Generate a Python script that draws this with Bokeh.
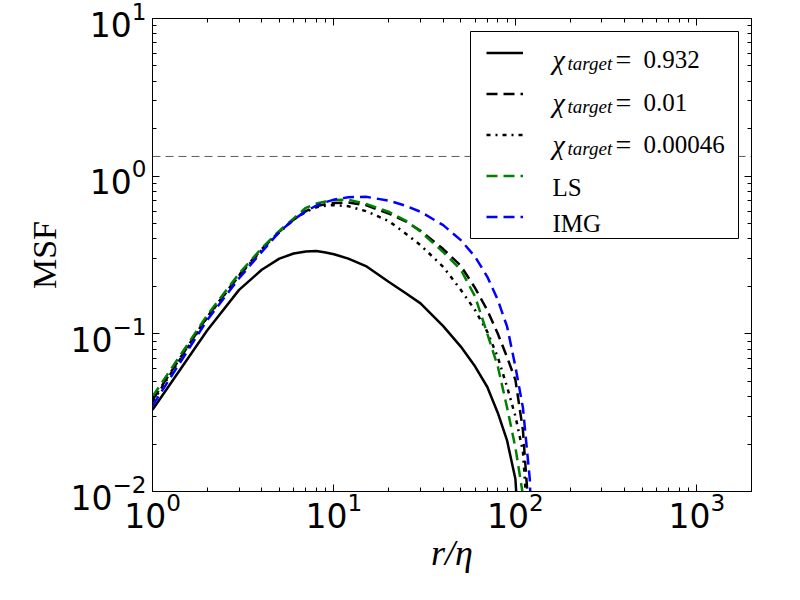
from bokeh.plotting import figure
from bokeh.models import (Range1d, LogAxis, LogTicker, Span, Legend, LegendItem,
                          Label, BoxAnnotation, CustomJSTickFormatter)
from bokeh.embed import file_html
from bokeh.resources import INLINE

# ---------------- data ----------------
r_eta = [1, 2, 3, 4, 5, 6, 7, 8, 9, 10, 12, 15, 20, 25, 30, 40, 50, 60, 70, 80,
         90, 100, 110, 120, 130]

msf_chi_0932 = [0.033, 0.105, 0.19, 0.255, 0.30, 0.323, 0.333, 0.335, 0.328, 0.32,
                0.30, 0.269, 0.214, 0.18, 0.156, 0.112, 0.083, 0.062, 0.046, 0.0315,
                0.021, 0.012, 0.002]
msf_chi_001 = [0.038, 0.128, 0.236, 0.345, 0.445, 0.53, 0.60, 0.645, 0.665, 0.675,
               0.68, 0.655, 0.58, 0.515, 0.45, 0.345, 0.27, 0.195, 0.141, 0.10,
               0.071, 0.051, 0.0245, 0.006]
msf_chi_000046 = [0.037, 0.127, 0.234, 0.34, 0.44, 0.53, 0.595, 0.635, 0.65, 0.655,
                  0.645, 0.60, 0.52, 0.43, 0.365, 0.266, 0.19, 0.141, 0.103, 0.071,
                  0.046, 0.030, 0.018, 0.004]
msf_ls = [0.040, 0.131, 0.241, 0.35, 0.45, 0.54, 0.63, 0.67, 0.69, 0.705,
          0.71, 0.667, 0.595, 0.52, 0.445, 0.33, 0.255, 0.172, 0.10, 0.062,
          0.034, 0.019, 0.0095, 0.001]
msf_img = [0.035, 0.122, 0.225, 0.331, 0.443, 0.53, 0.60, 0.65, 0.685, 0.71,
           0.735, 0.74, 0.70, 0.648, 0.594, 0.489, 0.393, 0.308, 0.23, 0.164,
           0.111, 0.062, 0.034, 0.012, 0.001]

chi_labels = ["0.932", "0.01", "0.00046"]
other_labels = ["LS", "IMG"]
ref_level = 4.0 / 3.0

x_limits = (1, 2000)
y_limits = (0.01, 10)

# ---------------- figure ----------------
p = figure(x_axis_type="log", y_axis_type="log",
           x_range=Range1d(*x_limits), y_range=Range1d(*y_limits),
           width=784, height=584,
           min_border_left=152, min_border_right=33, min_border_top=18, min_border_bottom=93,
           output_backend="svg", toolbar_location=None)
p.background_fill_color = "white"
p.border_fill_color = "white"
p.outline_line_color = "black"
p.outline_line_width = 1
p.xgrid.visible = False
p.ygrid.visible = False

for ax in (p.xaxis[0], p.yaxis[0]):
    ax.ticker.num_minor_ticks = 10
    ax.major_tick_in = 7
    ax.major_tick_out = 0
    ax.minor_tick_in = 4
    ax.minor_tick_out = 0
    ax.axis_line_color = "black"
    ax.major_tick_line_color = "black"
    ax.minor_tick_line_color = "black"
    ax.major_label_text_font = "DejaVu Sans"
    ax.major_label_text_font_size = "33px"
    ax.major_label_text_color = "black"
    ax.axis_label_text_font = "Liberation Serif"
    ax.axis_label_text_color = "black"

p.xaxis.major_label_standoff = 0
p.yaxis.major_label_standoff = 6
p.xaxis.axis_label = "r/η"
p.xaxis.axis_label_text_font_style = "italic"
p.xaxis.axis_label_text_font_size = "36px"
p.xaxis.axis_label_standoff = 2
p.yaxis.axis_label = "MSF"
p.yaxis.axis_label_text_font_style = "normal"
p.yaxis.axis_label_text_font_size = "34px"
p.yaxis.axis_label_standoff = 4

for side in ("above", "right"):
    ax = LogAxis(ticker=LogTicker(num_minor_ticks=10),
                 formatter=CustomJSTickFormatter(code="return ''"),
                 major_label_text_font_size="1px", major_label_standoff=0,
                 major_tick_in=7, major_tick_out=0, minor_tick_in=4, minor_tick_out=0,
                 axis_line_color="black", major_tick_line_color="black",
                 minor_tick_line_color="black")
    p.add_layout(ax, side)

p.add_layout(Span(location=ref_level, dimension="width", line_color="#333333",
                  line_dash="8 5", line_width=0.8, level="underlay"))

# ---------------- curves ----------------
series = [
    (msf_chi_0932, "black", "solid"),
    (msf_chi_001, "black", "11 6"),
    (msf_chi_000046, "black", "4 5 2 5"),
    (msf_ls, "#008000", "11 6"),
    (msf_img, "#0000ff", "11 6"),
]
renderers = []
for ys, col, dash in series:
    r = p.line(r_eta[:len(ys)], ys, line_color=col, line_width=2.5, line_dash=dash)
    renderers.append(r)

# legend frame (white box with black border), in frame pixels (y upward)
p.add_layout(BoxAnnotation(left=318, right=586, bottom=253, top=460,
                           left_units="screen", right_units="screen",
                           bottom_units="screen", top_units="screen",
                           fill_color="white", fill_alpha=1.0,
                           line_color="black", line_width=1, line_alpha=1.0))

# legend texts (positions relative to the frame, y upward)
text_x = 400
baselines = [432, 389, 347, 304, 268]
font = "Liberation Serif"


def add_text(x, y, txt, size, style="normal"):
    p.add_layout(Label(x=x, y=y, x_units="screen", y_units="screen", text=txt,
                       text_font=font, text_font_size=size, text_font_style=style,
                       text_color="black",
                       text_baseline="alphabetic", text_align="left"))


for i, val in enumerate(chi_labels):
    yb = baselines[i]
    add_text(text_x, yb, "χ", "28px", "italic")
    add_text(text_x + 15, yb - 4, "target", "19px", "italic")
    add_text(text_x + 63, yb, "=", "28px")
    add_text(text_x + 91, yb, val, "25px")
for j, name in enumerate(other_labels):
    add_text(text_x, baselines[3 + j], name, "25px")

legend = Legend(items=[LegendItem(label=" ", renderers=[r]) for r in renderers],
                location=(327, 253), margin=0, padding=7, spacing=12,
                glyph_width=37, glyph_height=29, label_height=29, label_width=200,
                label_standoff=5, label_text_font_size="12px",
                border_line_alpha=0, background_fill_alpha=0)
p.add_layout(legend)

open("out.html", "w").write(file_html(p, INLINE))
